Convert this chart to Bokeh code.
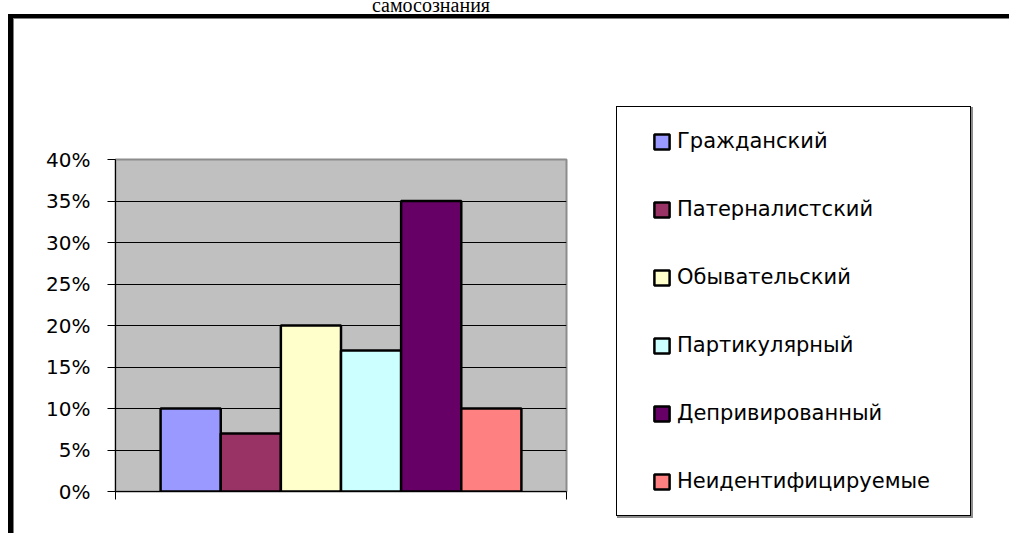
from bokeh.plotting import figure
from bokeh.models import (Range1d, FixedTicker, NumeralTickFormatter, Legend, LegendItem,
                          ColumnDataSource, LinearAxis)
from bokeh.embed import file_html
from bokeh.resources import INLINE

title_text = "самосознания"
series = ["Гражданский", "Патерналистский", "Обывательский",
          "Партикулярный", "Депривированный", "Неидентифицируемые"]
values = [0.10, 0.07, 0.20, 0.17, 0.35, 0.10]
colors = ["#9999FF", "#993366", "#FFFFCC", "#CCFFFF", "#660066", "#FF8080"]
y_ticks = [0, 0.05, 0.10, 0.15, 0.20, 0.25, 0.30, 0.35, 0.40]

OFF = 10                      # canvas starts 10px above the page top (title is cut off)
FL, FT, FW, FH = 115, 159 + OFF, 451, 332
RB, BB = 443, 42              # right / bottom borders

p = figure(width=None, height=None, frame_width=FW, frame_height=FH,
           output_backend="svg", toolbar_location=None,
           x_range=Range1d(0, 1), y_range=Range1d(0, 0.4),
           min_border_left=FL, min_border_top=FT,
           min_border_right=RB, min_border_bottom=BB)

p.background_fill_color = "#C0C0C0"
p.border_fill_color = None
p.border_fill_alpha = 0
p.outline_line_color = "#8c8c8c"
p.outline_line_width = 2


# chart border and legend frame are painted as CSS background layers
# (the canvas around the plot area is transparent)
def bar_css(x, y, w, h, c):
    return f"linear-gradient({c},{c}) {x}px {y + OFF}px / {w}px {h}px no-repeat"


layers = [
    bar_css(8, 14, 1001, 4, "#000000"),      # top border
    bar_css(13, 18, 996, 1, "#808080"),
    bar_css(8, 14, 5, 519, "#000000"),       # left border
    bar_css(13, 18, 1, 515, "#808080"),
    bar_css(616, 106, 355, 1, "#000000"),    # legend frame
    bar_css(616, 515, 355, 1, "#000000"),
    bar_css(616, 106, 1, 410, "#000000"),
    bar_css(970, 106, 1, 410, "#000000"),
    bar_css(617, 516, 355, 2, "#8c8c8c"),    # legend shadow
    bar_css(971, 107, 2, 411, "#8c8c8c"),
]
p.styles = {"background": ", ".join(layers) + ", #ffffff", "margin-top": f"-{OFF}px"}

p.xgrid.visible = False
p.ygrid.ticker = FixedTicker(ticks=y_ticks[1:-1])
p.ygrid.grid_line_color = "black"
p.ygrid.grid_line_width = 1

# bars: one group of six series
group = 0.8
bw = group / len(series)
xs = [0.5 + (i - (len(series) - 1) / 2) * bw for i in range(len(series))]
src = ColumnDataSource(dict(x=xs, top=values, name=series, color=colors))
r = p.vbar(x="x", top="top", bottom=0, width=bw, fill_color="color",
           line_color="black", line_width=2.5, source=src)

# main axes
ya = p.yaxis[0]
ya.ticker = FixedTicker(ticks=y_ticks)
ya.formatter = NumeralTickFormatter(format="0%")
ya.major_tick_out = 8
ya.major_tick_in = 0
ya.minor_tick_line_color = None
ya.major_label_standoff = 17
ya.major_label_text_font = "DejaVu Sans"
ya.major_label_text_font_size = "20px"
ya.major_label_text_color = "black"
ya.axis_line_color = "black"
ya.major_tick_line_color = "black"

xa = p.xaxis[0]
xa.ticker = FixedTicker(ticks=[0, 1])
xa.major_label_overrides = {0: "", 1: ""}
xa.major_label_text_font_size = "1px"
xa.major_tick_out = 8
xa.major_tick_in = 0
xa.minor_tick_line_color = None
xa.axis_line_color = "black"
xa.major_tick_line_color = "black"

# legend items (frame drawn by CSS above)
items = [LegendItem(label=series[i], renderers=[r], index=i) for i in range(len(series))]
legend = Legend(items=items, location=(86, -5), orientation="vertical", ncols=1,
                border_line_alpha=0, background_fill_alpha=0, padding=0, margin=0,
                spacing=38, glyph_width=19, glyph_height=19, label_height=30,
                label_standoff=6, label_text_font="DejaVu Sans",
                label_text_font_size="21px", label_text_color="black")
p.add_layout(legend, "right")

# title (its top is cut off, as in the source image) as the label of a bare top axis;
# leading em spaces move the centred label to the centre of the chart area
tax = LinearAxis(ticker=FixedTicker(ticks=[]),
                 major_tick_out=0, major_tick_in=0, minor_tick_out=0, minor_tick_in=0,
                 major_label_standoff=0, major_label_text_font_size="1px",
                 axis_line_color=None, axis_label="\u2003" * 9 + title_text,
                 axis_label_standoff=144,
                 axis_label_text_font="Liberation Serif", axis_label_text_font_size="20px",
                 axis_label_text_font_style="normal", axis_label_text_color="black")
p.add_layout(tax, "above")

open("out.html", "w").write(file_html(p, INLINE))
